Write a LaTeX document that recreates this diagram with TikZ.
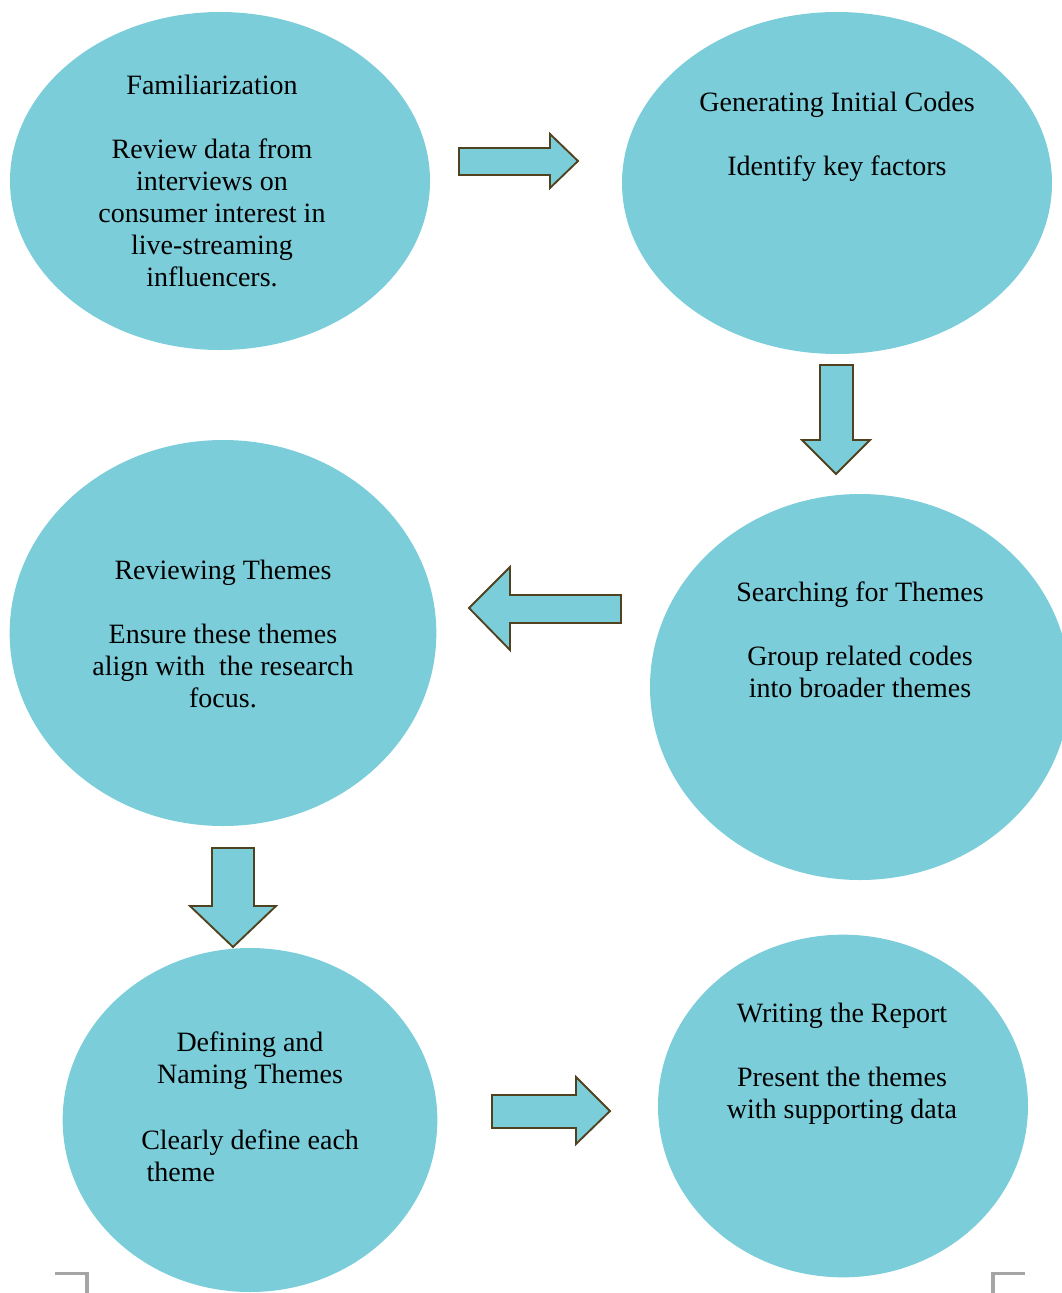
\documentclass[tikz,border=0pt]{standalone}
\usepackage{fontspec}
\setmainfont{Liberation Serif}
\usepackage{tikz}
\usetikzlibrary{shapes.geometric,positioning}
\definecolor{stagefill}{RGB}{123,205,217}
\definecolor{arrowline}{RGB}{80,66,30}
\definecolor{markgray}{RGB}{165,165,165}
\tikzstyle{stage} = [ellipse, fill=stagefill, draw=none, inner sep=0pt]
\tikzstyle{txt} = [align=center, inner sep=0pt, font=\fontsize{21}{24}\selectfont]
\tikzstyle{blockarrow} = [fill=stagefill, draw=arrowline, line width=1.4pt, line join=miter]
\tikzstyle{cornermark} = [draw=markgray, line width=2.6pt]

\begin{document}
\begin{tikzpicture}[x=0.75pt, y=-0.75pt]
		\useasboundingbox (0,0) rectangle (1062,1293);
		\clip (0,0) rectangle (1062,1293);

		% stages
		\node[stage, minimum width=315pt, minimum height=253.5pt] (fam) at (220,181) {};
		\node[stage, minimum width=322.5pt, minimum height=256.5pt] (gen) at (837,183) {};
		\node[stage, minimum width=315pt, minimum height=289.5pt] (search) at (860,687) {};
		\node[stage, minimum width=320pt, minimum height=289.5pt] (review) at (223,633) {};
		\node[stage, minimum width=281pt, minimum height=258pt] (define) at (250,1120) {};
		\node[stage, minimum width=277.5pt, minimum height=257pt] (report) at (843,1106) {};

		\node[txt] (famtxt) at (212,181) {Familiarization\\[24pt]Review data from\\interviews on\\consumer interest in\\live-streaming\\influencers.};
		\node[txt] (gentxt) at (837,137) {Generating Initial Codes\\[24pt]Identify key factors};
		\node[txt] (searchtxt) at (860,640) {Searching for Themes\\[24pt]Group related codes\\into broader themes};
		\node[txt] (reviewtxt) at (223,634) {Reviewing Themes\\[24pt]Ensure these themes\\align with \ the research\\focus.};
		\node[txt] (definetxt) at (250,1061) {Defining and\\Naming Themes};
		\node[txt, align=left, anchor=west] (definebody) at (141,1156) {Clearly define each\\\hspace*{4pt}theme};
		\node[txt] (reporttxt) at (842,1064) {Writing the Report\\[24pt]Present the themes\\with supporting data};

		% block arrows
		\draw[blockarrow] (459,148) -- (550,148) -- (550,134) -- (578,161) -- (550,188) -- (550,175) -- (459,175) -- cycle;
		\draw[blockarrow] (820,365) -- (853,365) -- (853,440) -- (870,440) -- (836,474) -- (802,440) -- (820,440) -- cycle;
		\draw[blockarrow] (621,595) -- (510,595) -- (510,567) -- (469,608) -- (510,650) -- (510,623) -- (621,623) -- cycle;
		\draw[blockarrow] (212,848) -- (254,848) -- (254,906) -- (276,906) -- (233,947) -- (190,906) -- (212,906) -- cycle;
		\draw[blockarrow] (492,1095) -- (576,1095) -- (576,1077) -- (610,1111) -- (576,1144) -- (576,1128) -- (492,1128) -- cycle;

		% corner marks
		\draw[cornermark] (55,1273.5) -- (87,1273.5) -- (87,1295);
		\draw[cornermark] (993,1295) -- (993,1273.5) -- (1025,1273.5);
	\end{tikzpicture}
\end{document}
